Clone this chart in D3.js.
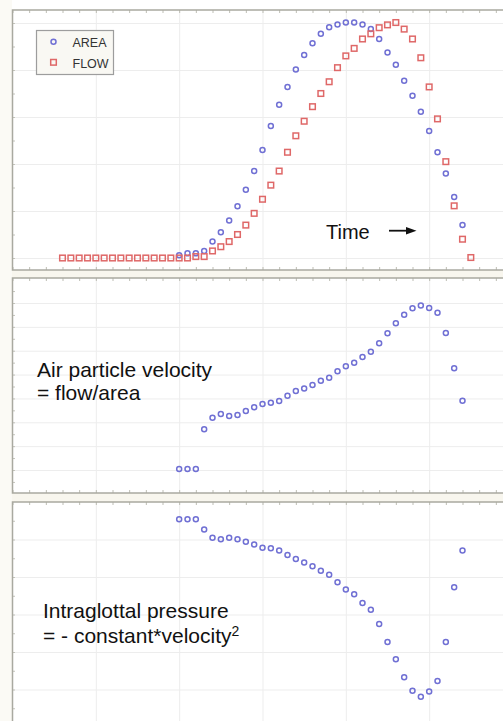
<!DOCTYPE html>
<html>
<head>
<meta charset="utf-8">
<script src="https://cdn.jsdelivr.net/npm/d3@7"></script>
<style>
  html, body { margin: 0; padding: 0; background: #ffffff; }
  svg { display: block; }
  text { font-family: "Liberation Sans", Arial, sans-serif; }
</style>
</head>
<body>
<svg id="chart" width="503" height="721"></svg>
<script>
// Sample index (time) for each series
const flowStart = 6;   // FLOW samples begin at index 6
const areaStart = 20;  // AREA, velocity and pressure begin at index 20

// Glottal area (arbitrary units)
const areaValues = [0.06, 0.10, 0.10, 0.15, 0.35, 0.55, 0.80, 1.10, 1.45, 1.85,
  2.30, 2.81, 3.26, 3.64, 4.01, 4.32, 4.57, 4.77, 4.91, 4.97,
  5.01, 5.01, 4.97, 4.87, 4.66, 4.37, 4.11, 3.77, 3.45, 3.11,
  2.70, 2.25, 1.80, 1.30, 0.70];

// Glottal flow (arbitrary units)
const flowValues = [0, 0, 0, 0, 0, 0, 0, 0, 0, 0, 0, 0, 0, 0, 0, 0, 0.03,
  0.03, 0.15, 0.24, 0.35, 0.50, 0.70, 0.95, 1.25, 1.55, 1.85,
  2.25, 2.60, 2.91, 3.22, 3.50, 3.75, 4.05, 4.30, 4.46, 4.66,
  4.77, 4.90, 4.96, 5.01, 4.87, 4.66, 4.26, 3.64, 2.96, 2.05,
  1.11, 0.40, 0.01];

// Air particle velocity = flow / area
const velocityValues = [0.04, 0.04, 0.04, 1.71, 2.19, 2.35, 2.26, 2.31, 2.47, 2.63,
  2.77, 2.82, 2.89, 3.11, 3.31, 3.42, 3.56, 3.74, 3.87, 4.14,
  4.35, 4.50, 4.74, 4.96, 5.31, 5.73, 6.15, 6.51, 6.78, 6.90,
  6.79, 6.59, 5.74, 4.27, 2.90];

// Intraglottal pressure
const pressureValues = [-0.46, -0.46, -0.46, -0.73, -0.95, -0.99, -0.95, -0.99, -1.06, -1.13,
  -1.22, -1.23, -1.29, -1.41, -1.52, -1.61, -1.71, -1.83, -1.94, -2.14,
  -2.33, -2.46, -2.69, -2.87, -3.25, -3.73, -4.19, -4.67, -5.03, -5.19,
  -5.05, -4.77, -3.73, -2.27, -1.29];

const legendLabels = ["AREA", "FLOW"];

const toPoints = (vals, start) => vals.map((v, k) => ({ t: start + k, v }));
const areaPts = toPoints(areaValues, areaStart);
const flowPts = toPoints(flowValues, flowStart);
const velPts = toPoints(velocityValues, areaStart);
const presPts = toPoints(pressureValues, areaStart);

const svg = d3.select("#chart");
const W = 503;

const circleColor = "#7070d4";
const squareColor = "#df6868";
const gridColor = "#ededed";
const borderColor = "#a9a9a0";
const bandColor = "#f8f6ee";

// Shared time axis
const x = d3.scaleLinear().domain([0, 60]).range([12.5, 512.5]);

// Panel frames: top, bottom are border positions
const panels = [
  { top: 10, bottom: 270, y: d3.scaleLinear().domain([0, 5]).range([258, 23]), ticks: [0, 1, 2, 3, 4, 5] },
  { top: 278, bottom: 493, y: d3.scaleLinear().domain([0, 7]).range([470, 303]), ticks: [0, 1, 2, 3, 4, 5, 6, 7] },
  { top: 502, bottom: 730, y: d3.scaleLinear().domain([0, -5]).range([502, 689.5]), ticks: [-1, -2, -3, -4, -5] }
];

// cream bands between panels
svg.append("rect").attr("x", 0).attr("y", 270).attr("width", W).attr("height", 8).attr("fill", bandColor);
svg.append("rect").attr("x", 0).attr("y", 493).attr("width", W).attr("height", 9).attr("fill", bandColor);
svg.append("rect").attr("x", 0).attr("y", 0).attr("width", 12).attr("height", 721).attr("fill", "#fbfaf5");

panels.forEach(p => {
  const g = svg.append("g");
  g.append("rect")
    .attr("x", 12.5).attr("y", p.top)
    .attr("width", W).attr("height", p.bottom - p.top)
    .attr("fill", "#ffffff");

  // horizontal grid
  const yAxis = d3.axisLeft(p.y).tickValues(p.ticks)
    .tickSize(-(W - 12.5)).tickFormat("");
  g.append("g").attr("transform", "translate(12.5,0)").call(yAxis)
    .call(s => s.select(".domain").remove())
    .call(s => s.selectAll("line").attr("stroke", gridColor).attr("stroke-width", 1));

  // vertical grid
  const xGrid = d3.axisBottom(x).tickValues([10, 20, 30, 40, 50])
    .tickSize(-(p.bottom - p.top)).tickFormat("");
  g.append("g").attr("transform", `translate(0,${p.bottom})`).call(xGrid)
    .call(s => s.select(".domain").remove())
    .call(s => s.selectAll("line").attr("stroke", gridColor).attr("stroke-width", 1));

  // minor ticks along top and bottom borders
  const minor = d3.range(0, 61, 2);
  const tb = d3.axisTop(x).tickValues(minor).tickSize(-3).tickFormat("");
  g.append("g").attr("transform", `translate(0,${p.top})`).call(tb)
    .call(s => s.select(".domain").remove())
    .call(s => s.selectAll("line").attr("stroke", "#bdbdb4"));
  const bb = d3.axisBottom(x).tickValues(minor).tickSize(-3).tickFormat("");
  g.append("g").attr("transform", `translate(0,${p.bottom})`).call(bb)
    .call(s => s.select(".domain").remove())
    .call(s => s.selectAll("line").attr("stroke", "#bdbdb4"));

  // minor ticks along left border
  const [d0, d1] = p.y.domain();
  const step = (d1 - d0) > 0 ? 0.5 : -0.5;
  const yMinor = d3.range(p.ticks[0] - 2 * step, p.ticks[p.ticks.length - 1] + 2 * step, step);
  const lb = d3.axisLeft(p.y).tickValues(yMinor.filter(v => {
      const py = p.y(v); return py > p.top + 2 && py < p.bottom - 2;
    })).tickSize(-2.5).tickFormat("");
  g.append("g").attr("transform", "translate(12.5,0)").call(lb)
    .call(s => s.select(".domain").remove())
    .call(s => s.selectAll("line").attr("stroke", "#c4c4bb"));

  // border
  g.append("rect")
    .attr("x", 12.5).attr("y", p.top)
    .attr("width", W).attr("height", p.bottom - p.top)
    .attr("fill", "none").attr("stroke", borderColor).attr("stroke-width", 1.5);
});

const markerStroke = 1.5;
const circleR = 2.5;
const squareSide = 5.6;
function drawCircles(pts, y) {
  svg.append("g").selectAll("circle").data(pts).join("circle")
    .attr("cx", d => x(d.t)).attr("cy", d => y(d.v)).attr("r", circleR)
    .attr("fill", "none").attr("stroke", circleColor).attr("stroke-width", markerStroke);
}
function drawSquares(pts, y) {
  const s = squareSide;
  svg.append("g").selectAll("rect").data(pts).join("rect")
    .attr("x", d => x(d.t) - s / 2).attr("y", d => y(d.v) - s / 2)
    .attr("width", s).attr("height", s)
    .attr("fill", "none").attr("stroke", squareColor).attr("stroke-width", markerStroke);
}

// Top panel: area and flow
drawCircles(areaPts, panels[0].y);
drawSquares(flowPts, panels[0].y);
// Middle panel: velocity
drawCircles(velPts, panels[1].y);
// Bottom panel: pressure
drawCircles(presPts, panels[2].y);

// Legend
const lg = svg.append("g");
lg.append("rect").attr("x", 36.5).attr("y", 30.5).attr("width", 77).attr("height", 44)
  .attr("fill", "#f9f8f3").attr("stroke", "#9d9d9d").attr("stroke-width", 1.2);
lg.append("circle").attr("cx", 53.5).attr("cy", 41.7).attr("r", circleR)
  .attr("fill", "none").attr("stroke", circleColor).attr("stroke-width", markerStroke);
lg.append("rect").attr("x", 53.5 - squareSide / 2).attr("y", 62.3 - squareSide / 2)
  .attr("width", squareSide).attr("height", squareSide)
  .attr("fill", "none").attr("stroke", squareColor).attr("stroke-width", markerStroke);
lg.selectAll("text").data(legendLabels).join("text")
  .attr("x", 72.5).attr("y", (d, i) => 46.5 + i * 21)
  .attr("font-size", 12.5).attr("fill", "#333")
  .text(d => d);

// Annotations
svg.append("text").attr("x", 326).attr("y", 238.5).attr("font-size", 20).attr("fill", "#111").text("Time");
svg.append("line").attr("x1", 389).attr("y1", 230.7).attr("x2", 408).attr("y2", 230.7)
  .attr("stroke", "#111").attr("stroke-width", 1.8);
svg.append("path").attr("d", "M406,227 L416.5,230.7 L406,234.4 Z").attr("fill", "#111");

svg.append("text").attr("x", 37).attr("y", 376.7).attr("font-size", 21).attr("fill", "#111").text("Air particle velocity");
svg.append("text").attr("x", 37).attr("y", 400).attr("font-size", 21).attr("fill", "#111").text("= flow/area");

svg.append("text").attr("x", 43).attr("y", 617.7).attr("font-size", 21).attr("fill", "#111").text("Intraglottal pressure");
const t2 = svg.append("text").attr("x", 43).attr("y", 642.7).attr("font-size", 21).attr("fill", "#111");
t2.append("tspan").text("= - constant*velocity");
t2.append("tspan").attr("font-size", 14).attr("dy", -7).text("2");
</script>
</body>
</html>
